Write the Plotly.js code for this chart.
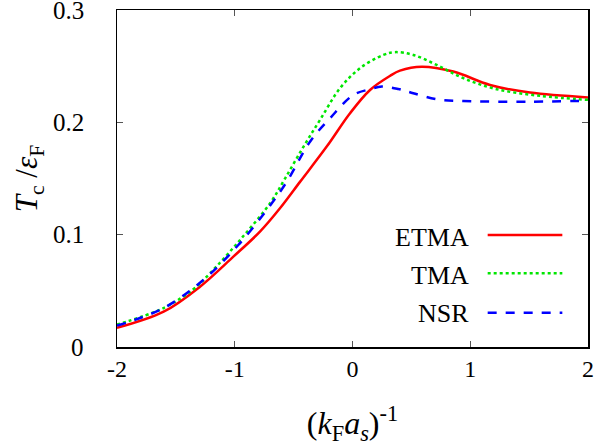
<!DOCTYPE html>
<html>
<head>
<meta charset="utf-8">
<script src="https://cdn.plot.ly/plotly-3.0.1.min.js"></script>
<style>html,body{margin:0;padding:0;background:#fff;}#chart{width:594px;height:446px;}</style>
</head>
<body>
<div id="chart"></div>
<script>
// Data
const etmaX = [-2, -1.604, -1.295, -1.012, -0.786, -0.616, -0.446, -0.219, -0.021, 0.149, 0.318, 0.403, 0.588, 0.856, 1.168, 1.507, 2];
const etmaY = [0.017, 0.0314, 0.0537, 0.0804, 0.1027, 0.1235, 0.147, 0.1784, 0.2081, 0.2288, 0.2413, 0.246, 0.2496, 0.2452, 0.2333, 0.2265, 0.2222];

const tmaX = [-2, -1.604, -1.352, -1.210, -0.955, -0.70, -0.573, -0.418, -0.276, -0.106, 0.064, 0.262, 0.36, 0.516, 0.715, 0.941, 1.225, 1.6, 2];
const tmaY = [0.0199, 0.0347, 0.0514, 0.0656, 0.0953, 0.128, 0.150, 0.178, 0.2021, 0.2304, 0.2482, 0.260, 0.2625, 0.260, 0.2511, 0.2393, 0.2295, 0.2235, 0.2200];

const nsrX = [-2, -1.604, -1.267, -0.970, -0.728, -0.559, -0.361, -0.191, 0.007, 0.149, 0.25, 0.389, 0.516, 0.715, 0.941, 1.507, 2];
const nsrY = [0.019, 0.0347, 0.0597, 0.0908, 0.122, 0.147, 0.1828, 0.2036, 0.2244, 0.2295, 0.2318, 0.2297, 0.2259, 0.2205, 0.219, 0.2184, 0.2193];

const seriesNames = ["ETMA", "TMA", "NSR"];
const xTicks = [-2, -1, 0, 1, 2];
const xTickLabels = ["-2", "-1", "0", "1", "2"];
const yTicks = [0, 0.1, 0.2, 0.3];
const yTickLabels = ["0", "0.1", "0.2", "0.3"];

const serif = "Times New Roman";
const colors = ["#ff0000", "#00e600", "#0000ff"];
const dashes = ["solid", "dot", "dash"];

const traces = [
  {x: etmaX, y: etmaY, name: seriesNames[0], mode: "lines", line: {color: colors[0], width: 2.5, dash: dashes[0], shape: "spline", smoothing: 1}},
  {x: tmaX, y: tmaY, name: seriesNames[1], mode: "lines", line: {color: colors[1], width: 2.5, dash: dashes[1], shape: "spline", smoothing: 1}},
  {x: nsrX, y: nsrY, name: seriesNames[2], mode: "lines", line: {color: colors[2], width: 2.5, dash: dashes[2], shape: "spline", smoothing: 1}}
];

const legendLineY = [0.3323, 0.2187, 0.1018];
const legendTextY = [0.326, 0.2136, 0.098];

const shapes = seriesNames.map((n, i) => ({
  type: "line", xref: "paper", yref: "paper",
  x0: 0.787, x1: 0.9455, y0: legendLineY[i], y1: legendLineY[i],
  line: {color: colors[i], width: 2.5, dash: dashes[i]}
}));
const legendText = seriesNames.map((n, i) => ({
  xref: "paper", yref: "paper", x: 0.752, y: legendTextY[i],
  xanchor: "right", yanchor: "middle", showarrow: false, text: n,
  font: {family: serif, size: 26, color: "#000"}
}));
// y tick labels placed through the y axis scale
const yLabelAnn = yTicks.map((v, i) => ({
  xref: "paper", yref: "y", x: 0, y: v, xshift: -31,
  xanchor: "right", yanchor: "middle", showarrow: false, text: yTickLabels[i],
  font: {family: serif, size: 25, color: "#000"}
}));

const layout = {
  width: 594, height: 446,
  margin: {l: 117, r: 6, t: 10, b: 99},
  paper_bgcolor: "#fff", plot_bgcolor: "#fff",
  showlegend: false,
  font: {family: serif, color: "#000", size: 24},
  xaxis: {
    range: [-2, 2], tickvals: xTicks, ticktext: xTickLabels,
    ticks: "inside", ticklen: 6, tickwidth: 1, tickcolor: "#555",
    showline: true, linecolor: "#000", linewidth: 1.5, mirror: "ticks",
    showgrid: false, zeroline: false,
    tickfont: {family: serif, size: 24, color: "#000"},
    ticklabeloverflow: "allow",
    title: {text: "(<i>k</i><sub>F</sub><i>a<sub>s</sub></i>)<sup>-1</sup>", font: {family: serif, size: 32, color: "#000"}, standoff: 38}
  },
  yaxis: {
    range: [0, 0.30001], tickvals: yTicks, showticklabels: false,
    ticks: "inside", ticklen: 6, tickwidth: 1, tickcolor: "#555",
    showline: true, linecolor: "#000", linewidth: 1.5, mirror: "ticks",
    showgrid: false, zeroline: false,
    title: {text: "<i>T</i><sub>c</sub> /<i>ε</i><sub>F</sub>", font: {family: serif, size: 31, color: "#000"}, standoff: 68}
  },
  shapes: shapes,
  annotations: legendText.concat(yLabelAnn)
};

Plotly.newPlot("chart", traces, layout, {staticPlot: true, displayModeBar: false});
</script>
</body>
</html>
